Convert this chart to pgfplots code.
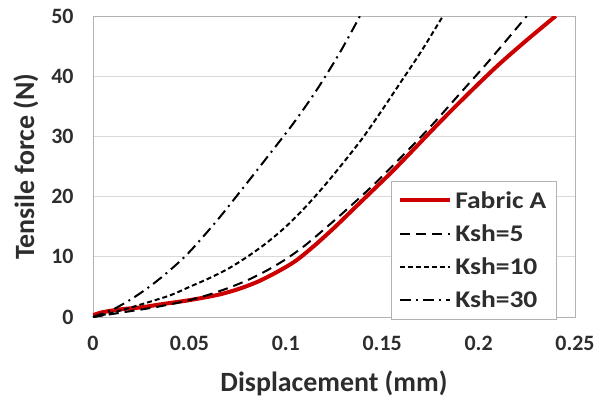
\documentclass[border=0pt]{standalone}
\usepackage{pgfplots}
\pgfplotsset{compat=1.18}
\usepackage{fontspec}
\setmainfont{Carlito}
\newfontfamily\legfont[FakeStretch=1.15]{Carlito}
\definecolor{exred}{RGB}{204,0,0}
\definecolor{txt}{RGB}{45,45,45}
\begin{document}
\begin{tikzpicture}
\begin{axis}[
 at={(0,0)}, anchor=south west,
 scale only axis, width=482bp, height=301bp,
 xmin=0, xmax=0.25, ymin=0, ymax=50,
 xtick={0,0.05,0.1,0.15,0.2,0.25},
 xticklabels={0,0.05,0.1,0.15,0.2,0.25},
 ytick={0,10,20,30,40,50},
 yticklabels={0,10,20,30,40,50},
 major tick length=0pt,
 ymajorgrids, grid style={draw=black!15, line width=0.8pt},
 axis line style={draw=black!30, line width=0.8pt},
 tick label style={font=\fontsize{22}{26}\selectfont\bfseries, text=txt},
 xticklabel style={yshift=-16bp},
 yticklabel style={xshift=-16bp},
 label style={font=\fontsize{28}{32}\selectfont\bfseries, text=txt},
 xlabel={Displacement (mm)}, ylabel={Tensile force (N)},
 xlabel style={at={(axis description cs:0.5,0)}, anchor=center, yshift=-66bp},
 ylabel style={at={(axis description cs:0,0.5)}, anchor=center, yshift=67bp},
 legend style={at={(0.618,0.452)}, anchor=north west, draw=black!30, line width=0.8pt,
   font=\legfont\fontsize{24}{28}\selectfont\bfseries, text=txt, row sep=9bp, inner sep=7bp,
   nodes={inner sep=3bp}},
 legend cell align=left,
 legend image code/.code={\draw[#1] (0bp,0bp) -- (50bp,0bp);},
]
\addplot[exred, line width=4bp, smooth, line join=round] coordinates {
(0,0.3) (0.005,0.8) (0.015,1.3) (0.025,1.6) (0.035,2.1) (0.05,2.8) (0.065,3.7) (0.075,4.6) (0.085,5.8) (0.095,7.4) (0.105,9.3) (0.115,11.9) (0.125,14.8) (0.135,17.9) (0.145,21.0) (0.155,24.1) (0.165,27.4) (0.18,32.4) (0.195,37.2) (0.21,41.8) (0.225,46.0) (0.24,50)};
\addlegendentry{Fabric A\hspace{22bp}}
\addplot[black, line width=2bp, smooth, dash pattern=on 10bp off 6bp] coordinates {
(0,0) (0.01,0.5) (0.02,1.0) (0.03,1.5) (0.04,2.1) (0.05,2.8) (0.06,3.7) (0.07,4.8) (0.08,6.1) (0.09,7.7) (0.1,9.6) (0.11,11.9) (0.12,14.6) (0.13,17.4) (0.145,21.8) (0.16,26.6) (0.175,31.6) (0.19,37.0) (0.205,42.4) (0.225,50)};
\addlegendentry{Ksh=5}
\addplot[black, line width=2bp, smooth, dash pattern=on 5bp off 3bp] coordinates {
(0,0) (0.01,0.7) (0.024,2.0) (0.04,3.6) (0.05,5.0) (0.06,6.4) (0.07,8.0) (0.08,10.0) (0.09,12.3) (0.1,15.0) (0.11,18.2) (0.12,21.8) (0.13,25.7) (0.14,29.8) (0.15,34.4) (0.16,39.2) (0.17,44.0) (0.1815,50)};
\addlegendentry{Ksh=10}
\addplot[black, line width=2bp, smooth, dash pattern=on 11bp off 5bp on 2bp off 5bp] coordinates {
(0,0) (0.01,1.2) (0.02,3.0) (0.03,5.2) (0.04,7.8) (0.05,10.8) (0.064,15.9) (0.077,21.1) (0.09,26.4) (0.104,32.2) (0.116,37.7) (0.128,43.9) (0.1385,50)};
\addlegendentry{Ksh=30}
\end{axis}
\useasboundingbox (-93bp,-80bp) rectangle (511bp,317bp);
\end{tikzpicture}
\end{document}
